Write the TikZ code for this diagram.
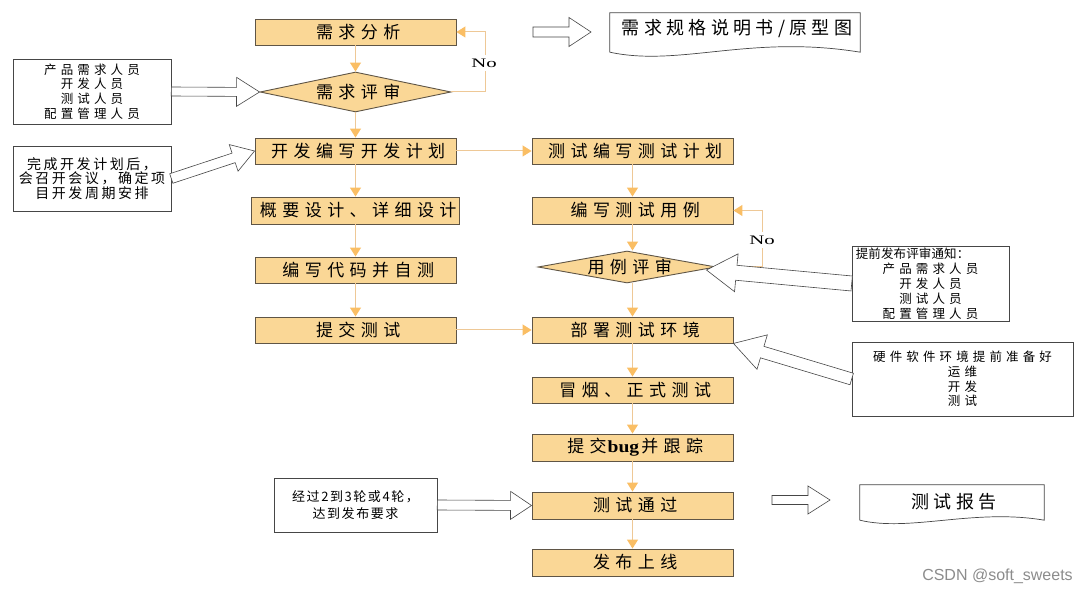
\documentclass[tikz,border=0pt]{standalone}
\usepackage{fontspec}
\usepackage{graphicx}
\usetikzlibrary{arrows.meta,calc,shapes.geometric}
\newfontfamily\cjkM[LetterSpace=32]{Noto Sans CJK SC}
\newfontfamily\cjkD[LetterSpace=24]{Noto Sans CJK SC}
\newfontfamily\cjkS[LetterSpace=33]{Noto Sans CJK SC}
\newfontfamily\cjkB[LetterSpace=18]{Noto Sans CJK SC}
\newfontfamily\cjkT[LetterSpace=1]{Noto Sans CJK SC}
\newfontfamily\cjkF[LetterSpace=12]{Noto Sans CJK SC}
\newfontfamily\serifL{Liberation Serif}
\newfontfamily\sansL{Liberation Sans}
\definecolor{boxfill}{RGB}{250,215,150}
\definecolor{boxdraw}{RGB}{95,85,70}
\definecolor{linec}{RGB}{238,200,150}
\definecolor{arrowc}{RGB}{250,190,100}
\definecolor{notedraw}{RGB}{70,70,70}
\definecolor{wmgray}{RGB}{140,140,140}
\newcommand{\hollowarrow}[5]{%
  \draw[hollow] ($(#1)!#3pt!-90:(#2)$) -- ($(#2)!#5pt!(#1)!#3pt!90:(#1)$)
   -- ($(#2)!#5pt!(#1)!#4pt!90:(#1)$) -- (#2)
   -- ($(#2)!#5pt!(#1)!#4pt!-90:(#1)$) -- ($(#2)!#5pt!(#1)!#3pt!-90:(#1)$)
   -- ($(#1)!#3pt!90:(#2)$) -- cycle;}
\begin{document}
\begin{tikzpicture}[x=1pt,y=1pt,
  proc/.style={draw=boxdraw, fill=boxfill, line width=0.9pt, minimum width=201pt,
    minimum height=26pt, inner sep=0pt, font=\cjkM\fontsize{17}{20}\selectfont,
    execute at end node={\hspace{-0.32em}}},
  dec/.style={diamond, draw=boxdraw, fill=boxfill, line width=0.9pt, inner sep=0pt,
    font=\cjkM\fontsize{17}{20}\selectfont, execute at end node={\hspace{-0.32em}}},
  note/.style={draw=notedraw, line width=0.6pt, fill=white, inner sep=0pt, align=center,
    font=\cjkS\fontsize{12.5}{14.8}\selectfont},
  flow/.style={draw=linec, line width=1pt, -{Triangle[width=11pt,length=9pt,color=arrowc]}},
  hollow/.style={draw=notedraw, fill=white, line width=0.6pt, line join=miter},
  nolabel/.style={fill=white, inner xsep=1pt, inner ysep=4pt, font=\serifL\fontsize{13}{13}\selectfont},
  doc/.style={draw=notedraw, line width=0.7pt}
]
\fill[white] (0,0) rectangle (1088,-593);
\useasboundingbox (0,0) rectangle (1088,-593);

% left column
\node[proc] (req) at (355.5,-32) {需求分析};
\node[dec, minimum width=191pt, minimum height=40pt, aspect=4.8] (rev1) at (355.5,-92) {需求评审};
\node[proc] (dev) at (355.5,-151) {开发编写开发计划};
\node[proc, minimum width=208pt, minimum height=27pt] (design) at (355.5,-210.5) {概要设计、详细设计};
\node[proc] (code) at (355.5,-270) {编写代码并自测};
\node[proc] (submit) at (355.5,-330) {提交测试};

% right column
\node[proc] (tplan) at (632.5,-151) {测试编写测试计划};
\node[proc, minimum height=27pt] (tcase) at (632.5,-210.5) {编写测试用例};
\node[dec, minimum width=178pt, minimum height=32pt, aspect=5.5] (rev2) at (627,-267) {用例评审};
\node[proc] (deploy) at (632.5,-330) {部署测试环境};
\node[proc] (smoke) at (632.5,-390) {冒烟、正式测试};
\node[proc, minimum height=27pt] (bug) at (632.5,-447.5) {提交\hspace{1pt}{\serifL\bfseries\fontsize{17}{17}\selectfont\scalebox{1.15}[1]{bug}}\hspace{2pt}并跟踪};
\node[proc, minimum height=27pt] (pass) at (632.5,-505.5) {测试通过};
\node[proc, minimum height=27pt] (release) at (632.5,-562.5) {发布上线};

% side notes
\node[note, minimum width=158pt, minimum height=65pt] (pb1) at (92,-91.5)
  {产品需求人员\\开发人员\\测试人员\\配置管理人员};
\node[note, minimum width=158pt, minimum height=65pt, font=\cjkB\fontsize{14}{14.6}\selectfont] (pb2) at (92,-178.5)
  {完成开发计划后，\\会召开会议，确定项\\目开发周期安排};
\node[note, minimum width=157pt, minimum height=75pt, font=\cjkS\fontsize{12.5}{15}\selectfont] (pb3) at (930.5,-283.5)
  {{\cjkT 提前发布评审通知：}\hspace*{36pt}\\产品需求人员\\开发人员\\测试人员\\配置管理人员};
\node[note, minimum width=221pt, minimum height=74pt] (pb4) at (962.5,-379)
  {硬件软件环境提前准备好\\运维\\开发\\测试};
\node[note, minimum width=163pt, minimum height=54pt, font=\cjkF\fontsize{13}{17}\selectfont] (pb5) at (355.5,-505)
  {经过2到3轮或4轮，\\达到发布要求};

% documents
\node[minimum width=250pt, minimum height=39pt, inner sep=0pt] (spec) at (735,-32.5) {};
\draw[doc] (spec.south west) -- (spec.north west) -- (spec.north east) -- (spec.south east)
  .. controls ($(spec.south east)+(-110,18)$) and ($(spec.south west)+(70,-15)$) .. (spec.south west);
\node[font=\cjkD\fontsize{18}{20}\selectfont, inner sep=0pt] (spect) at (737,-29) {需求规格说明书/原型图};
\node[minimum width=184pt, minimum height=35pt, inner sep=0pt] (report) at (952,-502.5) {};
\draw[doc] (report.south west) -- (report.north west) -- (report.north east) -- (report.south east)
  .. controls ($(report.south east)+(-70,12)$) and ($(report.south west)+(50,-12)$) .. (report.south west);
\node[font=\cjkD\fontsize{18}{20}\selectfont, inner sep=0pt] (reportt) at (954,-502) {测试报告};

% flow connectors
\draw[flow] (req.south) -- (rev1.north);
\draw[flow] (rev1.south) -- (dev.north);
\draw[flow] (dev.south) -- (design.north);
\draw[flow] (design.south) -- (code.north);
\draw[flow] (code.south) -- (submit.north);
\draw[flow] (dev.east) -- (tplan.west);
\draw[flow] (submit.east) -- (deploy.west);
\draw[flow] (tplan.south) -- (tcase.north);
\draw[flow] (tcase.south) -- (tcase.south |- rev2.north);
\draw[flow] (rev2.south -| deploy.north) -- (deploy.north);
\draw[flow] (deploy.south) -- (smoke.north);
\draw[flow] (smoke.south) -- (bug.north);
\draw[flow] (bug.south) -- (pass.north);
\draw[flow] (pass.south) -- (release.north);
\draw[flow] (rev1.east) -- ++(34,0) |- (req.east);
\draw[flow] (rev2.east) -- ++(46,0) |- (tcase.east);
\node[nolabel] (no1) at (484,-63) {\scalebox{1.6}[1]{No}};
\node[nolabel] (no2) at (762,-240) {\scalebox{1.6}[1]{No}};

% hollow block arrows
\coordinate (a3s) at (533,-32);
\coordinate (a3e) at (591,-32);
\coordinate (a7s) at (772,-500);
\coordinate (a7e) at (830,-500);
\coordinate (a4e) at ($(rev2.east)+(-10,-3)$);
\hollowarrow{pb1.east}{rev1.west}{4.5}{14.5}{23}
\hollowarrow{pb2.east}{dev.west}{5}{14}{22}
\hollowarrow{a3s}{a3e}{5}{14.5}{22}
\hollowarrow{pb3.west}{a4e}{7.5}{19}{30}
\hollowarrow{pb4.west}{deploy.south east}{6}{18}{30}
\hollowarrow{pb5.east}{pass.west}{5}{14}{21}
\hollowarrow{a7s}{a7e}{4.5}{14}{22}

% watermark
\node[font=\sansL\fontsize{16}{16}\selectfont, text=wmgray, inner sep=0pt] (wm) at (997.5,-576) {CSDN @soft\_sweets};
\end{tikzpicture}
\end{document}
